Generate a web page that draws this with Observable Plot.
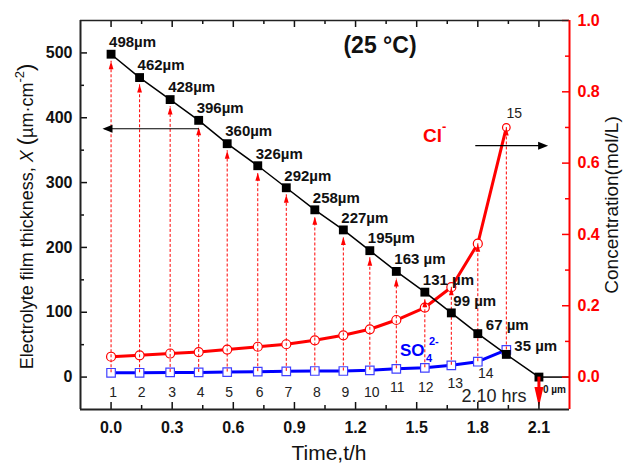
<!DOCTYPE html>
<html><head><meta charset="utf-8">
<script src="https://cdn.jsdelivr.net/npm/d3@7"></script>
<script src="https://cdn.jsdelivr.net/npm/@observablehq/plot@0.6"></script>
<style>
body{margin:0;background:#fff}
svg{font-family:"Liberation Sans",Arial,sans-serif}
</style>
</head><body><div id="chart"></div>
<script>
// ---- data ----
const pointIds = [1,2,3,4,5,6,7,8,9,10,11,12,13,14,15];
const times = [0, 0.14, 0.29, 0.43, 0.57, 0.72, 0.86, 1.00, 1.14, 1.27, 1.40, 1.54, 1.67, 1.80, 1.94];
const thickness = [498, 462, 428, 396, 360, 326, 292, 258, 227, 195, 163, 131, 99, 67, 35];
const thicknessLabels = ["498µm","462µm","428µm","396µm","360µm","326µm","292µm","258µm","227µm","195µm","163 µm","131 µm","99 µm","67 µm","35 µm"];
const chloride = [0.057, 0.061, 0.066, 0.070, 0.077, 0.085, 0.092, 0.103, 0.117, 0.134, 0.160, 0.195, 0.252, 0.374, 0.700];
const sulfate = [0.012, 0.012, 0.013, 0.013, 0.014, 0.015, 0.016, 0.017, 0.017, 0.019, 0.023, 0.026, 0.033, 0.043, 0.076];
const endTime = 2.10;
const endThickness = 0;
const endThicknessLabel = "0 µm";
const endTimeLabel = "2.10 hrs";
const tempLabel = "(25 °C)";
const xTicks = [0, 0.3, 0.6, 0.9, 1.2, 1.5, 1.8, 2.1];
const leftTicks = [0, 100, 200, 300, 400, 500];
const rightTicks = [0, 0.2, 0.4, 0.6, 0.8, 1.0];

// ---- scales / helpers ----
const xDom = [-0.15, 2.25], yDom = [-50, 550];
const W = 627, H = 472, mL = 80, mR = 58, mT = 20, mB = 63;
const conc = d3.scaleLinear([-0.091, 1.0], yDom); // right axis -> left units
const uy = (yDom[1]-yDom[0])/(H-mT-mB);  // y units per px
const ux = (xDom[1]-xDom[0])/(W-mL-mR);  // x units per px

const rows = pointIds.map((id,i)=>({id, t: times[i], thick: thickness[i], label: thicknessLabels[i], cl: chloride[i], so4: sulfate[i]}));
const thickLine = [...rows.map(d=>({t:d.t, v:d.thick})), {t:endTime, v:endThickness}];
const tip = d => conc(d.cl) > d.thick ? conc(d.cl) : d.thick - 7*uy;

function arrowSymbol(hw, len){
  return {draw(ctx, size){ const r = Math.sqrt(size/Math.PI); ctx.moveTo(0,0); ctx.lineTo(hw*r, len*r); ctx.lineTo(-hw*r, len*r); ctx.closePath(); }};
}
const smallHead = arrowSymbol(0.6, 2);
const blackHead = arrowSymbol(0.8, 2);
const bigHead = arrowSymbol(0.9, 4);

const xMinor = xTicks.map(v=>v+0.15).filter(v=>v<xDom[1]-1e-9);
const leftMinor = leftTicks.map(v=>v+50).filter(v=>v<yDom[1]);
const rightMinor = rightTicks.map(v=>v+0.1).filter(v=>v<1.0);
const MAJ = 7, MIN = 4;
const textFont = "Liberation Sans, Arial, sans-serif";

const plot = Plot.plot({
  width: W, height: H,
  marginLeft: mL, marginRight: mR, marginTop: mT, marginBottom: mB,
  style: {fontFamily: textFont, background: "white", overflow: "visible"},
  x: {domain: xDom},
  y: {domain: yDom},
  marks: [
    // curves
    Plot.line(rows, {x:"t", y:d=>conc(d.cl), stroke:"#ff0000", strokeWidth:3}),
    Plot.line(rows, {x:"t", y:d=>conc(d.so4), stroke:"#0000ff", strokeWidth:3}),
    Plot.dot(rows, {filter:(d,i)=>i<14, x:"t", y:d=>conc(d.cl), r:4.5, fill:"white", stroke:"#ff0000", strokeWidth:1.2}),
    Plot.dot(rows, {filter:(d,i)=>i===14, x:"t", y:d=>conc(d.cl), r:3.8, fill:"white", stroke:"#ff0000", strokeWidth:1.2}),
    Plot.dot(rows, {x:"t", y:d=>conc(d.so4), symbol:"square", r:4.8, fill:"white", stroke:"#4040ff", strokeWidth:1.2}),
    // dashed vertical guides with arrowheads
    Plot.ruleX(rows, {x:"t", y1:d=>conc(d.so4), y2:tip, stroke:"#ff0000", strokeWidth:1, strokeDasharray:"3,2"}),
    Plot.dot(rows, {x:"t", y:tip, symbol:smallHead, r:4, fill:"#ff0000", stroke:null}),
    // thickness line
    Plot.line(thickLine, {x:"t", y:"v", stroke:"black", strokeWidth:1.5}),
    Plot.ruleY([endThickness], {x1:endTime, x2:xDom[1], stroke:"black", strokeWidth:1.5}),
    Plot.dot(thickLine, {x:"t", y:"v", symbol:"square", r:5, fill:"black"}),
    // big red arrow down at end
    Plot.ruleX([endTime], {y1:endThickness, y2:endThickness - 20*uy, stroke:"#ff0000", strokeWidth:3}),
    Plot.dot([endTime], {x:d=>d, y:()=>yDom[0]+2.5*uy, symbol:bigHead, r:5, rotate:180, fill:"#ff0000", stroke:null}),
    // black arrows pointing to axes
    Plot.ruleY([383], {x1:0.434, x2:-0.03, stroke:"black", strokeWidth:1.2}),
    Plot.dot([383], {x:()=>-0.042, y:d=>d, symbol:blackHead, r:5, rotate:-90, fill:"black", stroke:null}),
    Plot.ruleY([357], {x1:1.79, x2:2.13, stroke:"black", strokeWidth:1.2}),
    Plot.dot([357], {x:()=>2.145, y:d=>d, symbol:blackHead, r:5, rotate:90, fill:"black", stroke:null}),
    // thickness labels
    Plot.text(rows, {filter:(d,i)=>i<12, x:"t", y:"thick", text:"label", textAnchor:"start", dx:-2, dy:-12, fontSize:15, fontWeight:"bold", fill:"#111"}),
    Plot.text(rows, {filter:(d,i)=>i===12, x:"t", y:"thick", text:"label", textAnchor:"start", dx:2, dy:-12, fontSize:15, fontWeight:"bold", fill:"#111"}),
    Plot.text(rows, {filter:(d,i)=>i>12, x:"t", y:"thick", text:"label", textAnchor:"start", dx:8, dy:-8, fontSize:15, fontWeight:"bold", fill:"#111"}),
    Plot.text([endThicknessLabel], {x:()=>endTime, y:()=>endThickness, text:d=>d, textAnchor:"start", dx:4, dy:13, fontSize:10, fontWeight:"bold", fill:"#111"}),
    // point numbers
    Plot.text(rows, {filter:(d,i)=>i<10, x:"t", y:()=>0, text:"id", dx:2, dy:15, fontSize:14, fill:"#222"}),
    Plot.text(rows, {filter:(d,i)=>i===10||i===11, x:"t", y:()=>0, text:"id", dx:1, dy:10, fontSize:14, fill:"#222"}),
    Plot.text(rows, {filter:(d,i)=>i===12, x:"t", y:()=>0, text:"id", dx:4, dy:6, fontSize:14, fill:"#222"}),
    Plot.text(rows, {filter:(d,i)=>i===13, x:"t", y:()=>0, text:"id", dx:8, dy:-4, fontSize:14, fill:"#222"}),
    Plot.text(rows, {filter:(d,i)=>i===14, x:"t", y:d=>conc(d.cl), text:"id", dx:8, dy:-14, fontSize:14, fill:"#222"}),
    Plot.text([endTimeLabel], {x:()=>endTime, y:()=>0, text:d=>d, dx:-45, dy:19, fontSize:18, fill:"#222"}),
    Plot.text([tempLabel], {x:()=>1.32, y:()=>512, text:d=>d, fontSize:23, fontWeight:"bold", fill:"#111"}),
    // ticks (inward)
    Plot.ruleX(xTicks, {x:d=>d, y1:yDom[0], y2:yDom[0]+MAJ*uy, stroke:"#111", strokeWidth:1.5}),
    Plot.ruleX(xMinor, {x:d=>d, y1:yDom[0], y2:yDom[0]+MIN*uy, stroke:"#111", strokeWidth:1.5}),
    Plot.ruleX(xTicks, {x:d=>d, y1:yDom[1], y2:yDom[1]-MAJ*uy, stroke:"#111", strokeWidth:1.5}),
    Plot.ruleX(xMinor, {x:d=>d, y1:yDom[1], y2:yDom[1]-MIN*uy, stroke:"#111", strokeWidth:1.5}),
    Plot.ruleY(leftTicks, {y:d=>d, x1:xDom[0], x2:xDom[0]+MAJ*ux, stroke:"#111", strokeWidth:1.5}),
    Plot.ruleY(leftMinor, {y:d=>d, x1:xDom[0], x2:xDom[0]+MIN*ux, stroke:"#111", strokeWidth:1.5}),
    Plot.ruleY(rightTicks.map(conc), {y:d=>d, x1:xDom[1], x2:xDom[1]-MAJ*ux, stroke:"#ff0000", strokeWidth:1.5}),
    Plot.ruleY(rightMinor.map(conc), {y:d=>d, x1:xDom[1], x2:xDom[1]-MIN*ux, stroke:"#ff0000", strokeWidth:1.5}),
    // frame
    Plot.ruleX([xDom[0]], {stroke:"#222", strokeWidth:2}),
    Plot.ruleY([yDom[0]], {stroke:"#222", strokeWidth:2}),
    Plot.ruleY([yDom[1]], {stroke:"#222", strokeWidth:1.5}),
    Plot.ruleX([xDom[1]], {stroke:"#ff0000", strokeWidth:2}),
    // axes labels
    Plot.axisX(xTicks, {tickSize:0, tickPadding:12, tickFormat:d3.format(".1f"), fontSize:16, fontWeight:"bold", fill:"#111", label:null}),
    Plot.axisY(leftTicks, {anchor:"left", tickSize:0, tickPadding:8, fontSize:16, fontWeight:"bold", fill:"#111", label:null}),
    Plot.axisY(rightTicks.map(conc), {anchor:"right", tickSize:0, tickPadding:8, tickFormat:v=>conc.invert(v).toFixed(1), fontSize:16, fontWeight:"bold", fill:"#ff0000", label:null})
  ]
});

// rich text annotations positioned with the plot's scales
const sx = v => plot.scale("x").apply(v), sy = v => plot.scale("y").apply(v);
const svg = d3.select(plot);

// left axis title
const lt = svg.append("text").attr("transform", `translate(33,${(sy(yDom[0])+sy(yDom[1]))/2+2}) rotate(-90)`)
  .attr("text-anchor","middle").attr("font-size",18).attr("fill","#111");
lt.append("tspan").text("Electrolyte film thickness, ");
lt.append("tspan").attr("font-style","italic").text("X");
lt.append("tspan").text(" ");
lt.append("tspan").attr("font-size",22).text("(");
lt.append("tspan").text("µm·cm");
lt.append("tspan").attr("font-size",13).attr("dy",-9).text("-2");
lt.append("tspan").attr("font-size",22).attr("dy",9).text(")");

// right axis title
svg.append("text").attr("transform", `translate(618,205) rotate(-90)`)
  .attr("text-anchor","middle").attr("font-size",19).attr("fill","#111").text("Concentration(mol/L)");

// x axis title
svg.append("text").attr("x",329).attr("y",460).attr("text-anchor","middle").attr("font-size",21).attr("fill","#111").text("Time,t/h");

// Cl- label
const clx = sx(1.533), cly = sy(362);
svg.append("text").attr("x",clx).attr("y",cly).attr("text-anchor","start").attr("font-size",19).attr("font-weight","bold").attr("fill","#ff0000").text("Cl");
svg.append("text").attr("x",clx+19).attr("y",cly-11).attr("text-anchor","start").attr("font-size",13).attr("font-weight","bold").attr("fill","#ff0000").text("-");

// SO4 2- label
const sox = sx(1.42), soy = sy(31);
svg.append("text").attr("x",sox).attr("y",soy).attr("text-anchor","start").attr("font-size",17).attr("font-weight","bold").attr("fill","#0000ff").text("SO");
svg.append("text").attr("x",sox+26).attr("y",soy+6).attr("text-anchor","start").attr("font-size",11).attr("font-weight","bold").attr("fill","#0000ff").text("4");
svg.append("text").attr("x",sox+29).attr("y",soy-11).attr("text-anchor","start").attr("font-size",11).attr("font-weight","bold").attr("fill","#0000ff").text("2-");

document.getElementById("chart").appendChild(plot);
</script>
</body></html>
